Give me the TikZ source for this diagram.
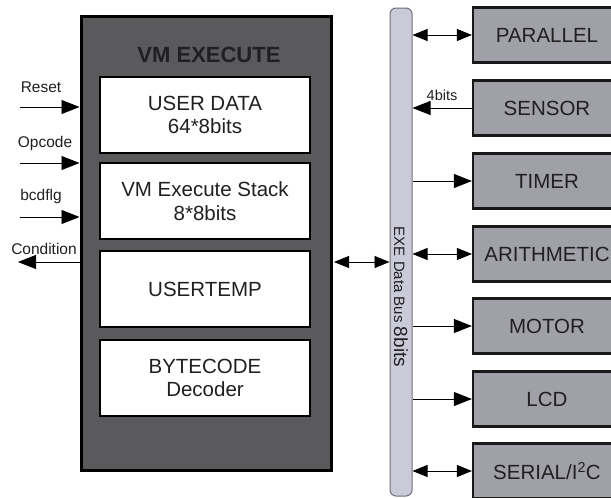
\documentclass[tikz,border=0pt]{standalone}
\usepackage{fontspec}
\setmainfont{Liberation Sans}
\usetikzlibrary{arrows.meta}
\newcommand{\fs}[1]{\fontsize{#1}{#1}\selectfont}
\definecolor{mainfill}{HTML}{5A5A5C}
\definecolor{unitfill}{HTML}{A0A0A8}
\definecolor{busfill}{HTML}{CACAD8}
\definecolor{busline}{HTML}{70707A}
\definecolor{ink}{HTML}{202022}
\tikzset{
  mainbox/.style={draw=black, line width=3pt, fill=mainfill, minimum width=250pt, minimum height=454pt, inner sep=0pt},
  memblock/.style={draw=black, line width=2pt, fill=white, minimum width=210pt, minimum height=76pt, inner sep=0pt, align=center, font=\fs{20.5}, text=ink},
  unitbox/.style={draw=black!90, line width=2.2pt, fill=unitfill, minimum width=148pt, minimum height=55pt, inner sep=0pt, font=\fs{20.5}, text=ink},
  busbar/.style={draw=busline, line width=1pt, fill=busfill, rounded corners=6pt, minimum width=22pt, minimum height=488pt, inner sep=0pt},
  sig/.style={font=\fs{15.5}, text=ink},
  arr/.style={line width=0.9pt, -{Triangle[length=18pt,width=14pt]}},
  darr/.style={line width=0.9pt, {Triangle[length=15pt,width=12pt]}-{Triangle[length=15pt,width=12pt]}}
}
\begin{document}
\begin{tikzpicture}[x=1pt,y=-1pt]
  \useasboundingbox (0,0) rectangle (611,498);
  \clip (0,0) rectangle (611,498);
  \fill[white] (0,0) rectangle (611,498);

  % execution unit and its memories
  \node[mainbox] (main) at (206,243) {};
  \node[font=\bfseries\fs{22}, text=ink] (title) at (209,55) {VM EXECUTE};
  \node[memblock] (udata) at (205,115) {USER DATA\\[3pt]64*8bits};
  \node[memblock] (stack) at (205,201) {VM Execute Stack\\[3pt]8*8bits};
  \node[memblock] (utemp) at (205,289) {USERTEMP};
  \node[memblock] (bcode) at (205,378) {BYTECODE\\[3pt]Decoder};

  % control signals
  \coordinate (rs) at (20,107);
  \coordinate (op) at (20,163);
  \coordinate (bc) at (20,217);
  \coordinate (cd) at (18,262);
  \node[sig] (lrs) at (41,87) {Reset};
  \node[sig] (lop) at (45,143) {Opcode};
  \node[sig] (lbc) at (41,196) {bcdflg};
  \node[sig] (lcd) at (44,249) {Condition};
  \draw[arr] (rs) -- (rs -| main.west);
  \draw[arr] (op) -- (op -| main.west);
  \draw[arr] (bc) -- (bc -| main.west);
  \draw[arr] (cd -| main.west) -- (cd);

  % data bus
  \node[busbar] (bus) at (401,252) {};
  \node[rotate=-90, text=ink] (buslabel) at (401,297) {\fs{15}EXE Data Bus \fs{19}8bits};
  \coordinate (mb) at (0,262);
  \draw[darr] ([xshift=1.5pt]mb -| main.east) -- (mb -| bus.west);

  % peripheral units
  \node[unitbox] (par) at (547,35) {PARALLEL};
  \node[unitbox] (sen) at (547,108) {SENSOR};
  \node[unitbox] (tim) at (547,181) {TIMER};
  \node[unitbox] (ari) at (547,254) {ARITHMETIC};
  \node[unitbox] (mot) at (547,326) {MOTOR};
  \node[unitbox] (lcd) at (547,399) {LCD};
  \node[unitbox] (ser) at (547,471) {SERIAL/I\textsuperscript{2}C};

  \draw[darr] (bus.east |- par.west) -- (par.west);
  \draw[arr] (sen.west) -- (bus.east |- sen.west);
  \node[sig, font=\fs{14.5}] (lsen) at (442,95) {4bits};
  \draw[arr] (bus.east |- tim.west) -- (tim.west);
  \draw[darr] (bus.east |- ari.west) -- (ari.west);
  \draw[arr] (bus.east |- mot.west) -- (mot.west);
  \draw[arr] (bus.east |- lcd.west) -- (lcd.west);
  \draw[darr] (bus.east |- ser.west) -- (ser.west);
\end{tikzpicture}
\end{document}
